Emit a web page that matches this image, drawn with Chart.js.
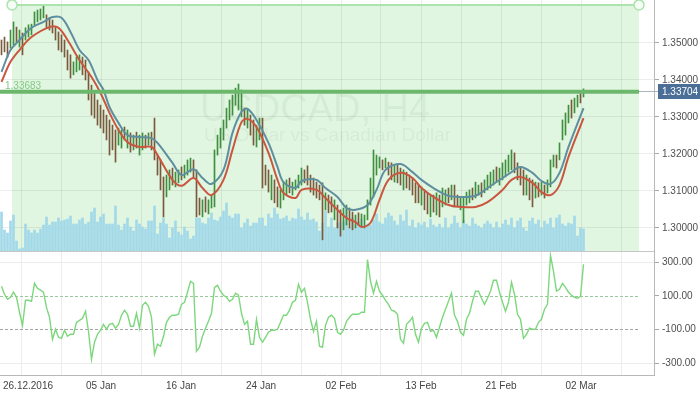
<!DOCTYPE html>
<html><head><meta charset="utf-8">
<script src="https://cdn.jsdelivr.net/npm/chart.js@4/dist/chart.umd.min.js"></script>
<style>
html,body{margin:0;padding:0;background:#fff;overflow:hidden}
#wrap{position:relative;width:700px;height:394px}
canvas{position:absolute;left:0}
#top{top:0}#bot{top:251px}
</style></head><body>
<div id="wrap"><canvas id="top" width="700" height="251"></canvas><canvas id="bot" width="700" height="143"></canvas></div>
<script>
const symbol = 'USDCAD, H4';
const symbolName = 'US Dollar vs Canadian Dollar';
const dateLabels = ['26.12.2016','05 Jan','16 Jan','24 Jan','02 Feb','13 Feb','21 Feb','02 Mar'];
const priceTicks = [1.30,1.31,1.32,1.33,1.34,1.35];
const cciTicks = [-300,-100,100,300];
const lastPrice = 1.33704;
const levelPrice = 1.33683;
const levelLabel = '1.33683';
const zoneFrom = 3.5, zoneTo = 212.5, zoneTop = 1.3603;

const highs = [
1.3508,1.3516,1.3503,1.3535,1.3557,1.3543,1.3535,1.3527,1.3541,1.3549,
1.3551,1.3584,1.3589,1.3592,1.3600,1.3576,1.3568,1.3562,1.3543,1.3530,
1.3522,1.3508,1.3481,1.3468,1.3449,1.3462,1.3468,1.3462,1.3454,1.3422,
1.3386,1.3365,1.3346,1.3332,1.3319,1.3305,1.3292,1.3278,1.3265,1.3270,
1.3265,1.3273,1.3265,1.3257,1.3251,1.3259,1.3251,1.3257,1.3251,1.3257,
1.3259,1.3297,1.3197,1.3184,1.3138,1.3143,1.3157,1.3162,1.3151,1.3157,
1.3165,1.3170,1.3184,1.3189,1.3184,1.3157,1.3081,1.3076,1.3084,1.3076,
1.3089,1.3211,1.3251,1.3270,1.3292,1.3324,1.3346,1.3359,1.3378,1.3389,
1.3373,1.3324,1.3319,1.3305,1.3292,1.3278,1.3297,1.3297,1.3170,1.3157,
1.3143,1.3130,1.3111,1.3103,1.3124,1.3130,1.3135,1.3124,1.3130,1.3143,
1.3162,1.3157,1.3168,1.3143,1.3135,1.3124,1.3116,1.3122,1.3095,1.3089,
1.3084,1.3076,1.3062,1.3049,1.3054,1.3062,1.3054,1.3043,1.3035,1.3041,
1.3038,1.3035,1.3076,1.3135,1.3211,1.3197,1.3192,1.3184,1.3189,1.3178,
1.3176,1.3170,1.3170,1.3162,1.3157,1.3151,1.3143,1.3135,1.3122,1.3116,
1.3111,1.3103,1.3095,1.3089,1.3089,1.3095,1.3089,1.3108,1.3103,1.3108,
1.3116,1.3116,1.3089,1.3084,1.3084,1.3097,1.3103,1.3108,1.3124,1.3116,
1.3122,1.3130,1.3143,1.3151,1.3157,1.3165,1.3162,1.3176,1.3184,1.3197,
1.3211,1.3203,1.3176,1.3165,1.3157,1.3143,1.3135,1.3130,1.3124,1.3122,
1.3124,1.3116,1.3130,1.3184,1.3197,1.3197,1.3230,1.3292,1.3311,1.3332,
1.3346,1.3351,1.3359,1.3368,1.3376];
const lows = [
1.3468,1.3476,1.3462,1.3486,1.3495,1.3503,1.3489,1.3468,1.3508,1.3516,
1.3522,1.3549,1.3557,1.3562,1.3568,1.3541,1.3535,1.3527,1.3508,1.3481,
1.3476,1.3462,1.3427,1.3405,1.3414,1.3422,1.3427,1.3414,1.3400,1.3346,
1.3305,1.3297,1.3278,1.3270,1.3257,1.3238,1.3197,1.3211,1.3178,1.3224,
1.3216,1.3238,1.3216,1.3205,1.3211,1.3216,1.3197,1.3211,1.3216,1.3224,
1.3211,1.3184,1.3143,1.3103,1.3030,1.3084,1.3103,1.3116,1.3111,1.3122,
1.3130,1.3135,1.3143,1.3151,1.3135,1.3030,1.3035,1.3030,1.3043,1.3038,
1.3054,1.3057,1.3197,1.3216,1.3238,1.3270,1.3292,1.3305,1.3332,1.3319,
1.3300,1.3278,1.3270,1.3251,1.3224,1.3219,1.3238,1.3108,1.3116,1.3097,
1.3076,1.3068,1.3057,1.3054,1.3076,1.3089,1.3095,1.3089,1.3103,1.3108,
1.3116,1.3122,1.3116,1.3097,1.3089,1.3081,1.3076,1.2968,1.3049,1.3041,
1.3043,1.3022,1.3000,1.2978,1.2995,1.3008,1.3000,1.2995,1.3000,1.3008,
1.3003,1.3000,1.3022,1.3062,1.3084,1.3143,1.3162,1.3157,1.3162,1.3143,
1.3130,1.3124,1.3122,1.3116,1.3103,1.3108,1.3103,1.3089,1.3068,1.3068,
1.3062,1.3049,1.3038,1.3030,1.3043,1.3035,1.3030,1.3057,1.3062,1.3068,
1.3076,1.3057,1.3057,1.3049,1.3014,1.3062,1.3068,1.3076,1.3081,1.3089,
1.3084,1.3095,1.3103,1.3108,1.3116,1.3124,1.3116,1.3130,1.3138,1.3151,
1.3157,1.3149,1.3130,1.3116,1.3089,1.3089,1.3076,1.3057,1.3081,1.3084,
1.3089,1.3081,1.3095,1.3111,1.3165,1.3162,1.3184,1.3238,1.3251,1.3284,
1.3297,1.3311,1.3327,1.3338,1.3354];
const barDir = [
0,0,0,1,1,0,1,0,1,1,1,1,1,1,1,0,0,0,0,0,0,0,0,0,1,1,1,0,0,0,
0,0,0,0,0,0,0,0,0,1,1,0,1,0,1,0,1,1,0,1,0,0,0,0,0,1,1,0,1,1,
0,1,1,1,0,0,0,1,0,1,1,1,1,1,1,1,1,1,1,1,1,0,1,0,0,1,1,0,0,0,
1,0,0,1,1,1,0,1,1,1,1,0,0,0,0,0,0,0,1,0,0,1,0,0,1,1,0,0,1,0,
1,1,1,1,1,1,1,0,1,0,0,1,0,0,1,0,0,0,0,0,1,0,0,1,0,1,0,1,1,0,
1,0,0,1,1,1,1,0,1,1,0,1,1,1,1,0,1,1,1,1,1,0,0,0,0,1,0,0,1,0,
1,0,1,1,1,0,1,1,1,1,0,1,1,0,1];
const volumes = [
1560,840,720,1200,1440,400,80,120,1080,840,
720,840,720,880,1040,1360,1040,1160,1160,1320,
1200,1240,1280,1400,1080,1080,1240,1320,1080,1160,
1560,1720,1160,1360,1480,1080,1080,1080,1800,1040,
840,1080,1320,960,800,1240,1080,960,880,1200,
1200,1800,680,1120,1320,1080,520,920,1200,760,
640,960,800,480,600,1320,1320,1120,1080,1320,
1520,1240,1200,1360,1600,1920,1400,1320,1480,1480,
920,1120,1280,1000,1120,1120,1320,1320,1000,1480,
1320,1720,1480,1280,1320,1400,1200,1320,1280,1680,
1360,1240,1520,1240,1280,1160,800,1120,1600,960,
1320,920,1120,1120,1200,1720,920,1320,1040,1160,
1280,920,1080,1040,1240,1480,1160,1080,1320,1520,
1400,1200,1040,1440,1200,1640,1000,1240,920,1120,
1040,1160,920,1280,1040,960,1080,920,1320,920,
1080,1400,1120,920,1240,1080,1000,1320,1080,1000,
920,1080,1200,1080,920,1160,920,1080,1240,1040,
1320,920,1200,1320,920,800,1200,1320,1080,1240,
920,1200,1080,1320,920,1320,1440,1080,1000,1120,
1080,1400,600,920,880];
const cci = [
156,109,79,91,121,91,2,-76,73,73,
67,174,144,133,121,31,-28,-159,-99,-147,
-153,-105,-141,-129,-129,-58,-46,-34,8,-111,
-277,-176,-129,-105,-70,-99,-70,-64,-93,-70,
-16,14,-10,-81,-81,-4,-93,43,61,37,
-28,-248,-188,-200,-141,-58,-28,-16,-16,-10,
49,61,121,186,174,-230,-206,-141,-93,-52,
-4,150,162,127,103,91,67,79,115,103,
-4,-70,-52,-188,-188,-40,-147,-176,-147,-117,
-105,-105,-99,-58,-16,-16,14,61,73,168,
121,144,61,-40,-111,-52,-200,-206,-76,-28,
-16,-34,-117,-129,-105,-52,-28,-10,-10,-10,
2,2,315,186,115,186,127,103,73,49,
14,8,-10,-159,-182,-70,-52,-28,-129,-176,
-93,-64,-58,-111,-105,-147,-87,-28,20,67,
115,-16,-52,-117,-135,-40,-4,67,127,127,
85,49,85,127,192,192,121,61,8,61,
180,109,-10,-40,-153,-129,-93,-99,-99,-58,
-40,20,49,340,245,127,138,174,150,121,
103,91,85,97,287];
const maBlueIdx = [0,3,6,10,14,17,20,23,26,29,32,34,36,39,42,46,50,52,57,60,64,67,70,74,77,80,82,85,89,92,94,98,100,105,108,112,115,118,122,125,128,133,137,140,144,149,153,158,162,167,170,173,177,180,183,186,189,194];
const maBlue = [1.3422,1.3481,1.3508,1.3541,1.3557,1.3570,1.3568,1.3530,1.3481,1.3454,1.3400,1.3373,1.3327,1.3284,1.3251,1.3246,1.3243,1.3230,1.3176,1.3143,1.3159,1.3135,1.3119,1.3157,1.3257,1.3314,1.3322,1.3292,1.3230,1.3165,1.3124,1.3108,1.3127,1.3130,1.3108,1.3084,1.3054,1.3049,1.3062,1.3103,1.3157,1.3173,1.3151,1.3130,1.3108,1.3087,1.3084,1.3087,1.3108,1.3135,1.3151,1.3165,1.3149,1.3127,1.3119,1.3149,1.3219,1.3324];
const maRedIdx = [0,3,6,10,16,19,22,26,30,33,36,39,42,46,50,52,57,60,64,67,70,74,77,80,82,85,89,92,94,98,100,105,108,112,115,118,120,123,126,129,133,137,140,144,149,153,158,162,167,170,173,177,180,183,186,189,194];
const maRed = [1.3395,1.3449,1.3481,1.3516,1.3543,1.3541,1.3508,1.3454,1.3408,1.3365,1.3311,1.3265,1.3232,1.3219,1.3219,1.3197,1.3130,1.3114,1.3135,1.3108,1.3089,1.3130,1.3211,1.3286,1.3295,1.3273,1.3203,1.3130,1.3095,1.3081,1.3103,1.3103,1.3081,1.3049,1.3027,1.3016,1.3003,1.3014,1.3076,1.3130,1.3149,1.3135,1.3108,1.3084,1.3062,1.3057,1.3057,1.3070,1.3103,1.3130,1.3138,1.3122,1.3097,1.3089,1.3116,1.3192,1.3297];

// ---- layout / style ----
const FONT = "'Liberation Sans', Arial, sans-serif";
Chart.defaults.font.family = FONT;
Chart.defaults.font.size = 10;
const AXW = 46;
const X_MIN = -0.5, X_MAX = 217.5;
const GRID_START = 6.5, GRID_STEP = 40 / 3, GRID_N = 16;
const gridVals = Array.from({length: GRID_N}, (_, k) => GRID_START + k * GRID_STEP);
const PRICE_MIN = 1.29378, PRICE_MAX = 1.36162;
const CCI_MIN = -371, CCI_MAX = 366;
const VOL_MAX = 10040;
const UP = '#3f8f3f', DOWN = '#7b5a3b';

function xScale(bottom) {
  return {
    type: 'linear', min: X_MIN, max: X_MAX, offset: false,
    afterBuildTicks: s => { s.ticks = gridVals.map(v => ({value: v})); },
    grid: {color: bottom ? '#ececec' : 'rgba(0,0,0,0.07)', drawTicks: false, offset: false},
    border: {display: bottom, color: '#b8b8b8'},
    ticks: {display: false},
    afterFit: s => { s.height = bottom ? 19 : 0; s.paddingLeft = 0; s.paddingRight = 0; }
  };
}
function yFit(s) { s.width = AXW; s.paddingTop = 0; s.paddingBottom = 0; }

const zonePlugin = {
  id: 'zone',
  beforeDraw(chart) {
    const {ctx, chartArea, scales} = chart;
    const x1 = scales.x.getPixelForValue(zoneFrom), x2 = scales.x.getPixelForValue(zoneTo);
    const yt = scales.y.getPixelForValue(zoneTop);
    ctx.save();
    ctx.fillStyle = '#e1f6e1';
    ctx.fillRect(x1, yt, x2 - x1, chartArea.bottom - yt);
    ctx.restore();
  },
  beforeDatasetsDraw(chart) {
    const {ctx} = chart;
    ctx.save();
    ctx.fillStyle = 'rgba(0,70,0,0.055)';
    ctx.textBaseline = 'alphabetic';
    ctx.font = '38px ' + FONT;
    ctx.fillText(symbol, 200, 121);
    ctx.font = '19px ' + FONT;
    ctx.fillText(symbolName, 204, 141);
    ctx.restore();
  },
  afterDatasetsDraw(chart) {
    const {ctx, chartArea, scales} = chart;
    const x1 = scales.x.getPixelForValue(zoneFrom), x2 = scales.x.getPixelForValue(zoneTo);
    const yt = scales.y.getPixelForValue(zoneTop);
    ctx.save();
    ctx.strokeStyle = '#ade4ad'; ctx.lineWidth = 2;
    ctx.beginPath(); ctx.moveTo(x1, yt); ctx.lineTo(x2, yt); ctx.stroke();
    ctx.lineWidth = 1.5; ctx.fillStyle = '#f6fdf6';
    [x1, x2].forEach(x => { ctx.beginPath(); ctx.arc(x, yt, 5, 0, Math.PI * 2); ctx.fill(); ctx.stroke(); });
    const yl = scales.y.getPixelForValue(levelPrice);
    ctx.strokeStyle = '#6cb76c'; ctx.lineWidth = 4;
    ctx.beginPath(); ctx.moveTo(chartArea.left, yl); ctx.lineTo(x2, yl); ctx.stroke();
    ctx.fillStyle = '#86c886'; ctx.font = '10px ' + FONT; ctx.textBaseline = 'alphabetic';
    ctx.fillText(levelLabel, 5, yl - 3);
    ctx.restore();
  },
  afterDraw(chart) {
    const {ctx, scales} = chart;
    const x2 = scales.x.getPixelForValue(zoneTo);
    const yp = Math.round(scales.y.getPixelForValue(lastPrice));
    ctx.save();
    ctx.strokeStyle = '#a9b4c0'; ctx.lineWidth = 1;
    ctx.beginPath(); ctx.moveTo(x2, yp + 0.5); ctx.lineTo(659, yp + 0.5); ctx.stroke();
    ctx.fillStyle = '#4b6e97';
    ctx.fillRect(658, yp - 7, 42, 15);
    ctx.fillStyle = '#ffffff'; ctx.font = '10px ' + FONT; ctx.textBaseline = 'middle';
    ctx.fillText(lastPrice.toFixed(5), 662, yp + 1);
    ctx.restore();
  }
};

new Chart(document.getElementById('top'), {
  type: 'bar',
  data: {
    datasets: [
      {type: 'line', data: maBlueIdx.map((x, k) => ({x, y: maBlue[k]})), borderColor: '#5f8f9f', borderWidth: 2, pointRadius: 0, tension: 0.35, yAxisID: 'y', order: 0},
      {type: 'line', data: maRedIdx.map((x, k) => ({x, y: maRed[k]})), borderColor: '#c9573f', borderWidth: 2, pointRadius: 0, tension: 0.35, yAxisID: 'y', order: 0},
      {type: 'bar', data: highs.map((h, i) => ({x: i, y: [lows[i], h]})), backgroundColor: barDir.map(d => d ? UP : DOWN), barThickness: 1, grouped: false, yAxisID: 'y', order: 1},
      {type: 'bar', data: volumes.map((v, i) => ({x: i, y: v})), backgroundColor: '#a2d9e8', barThickness: 2, grouped: false, yAxisID: 'vol', order: 2}
    ]
  },
  options: {
    responsive: false, animation: false, devicePixelRatio: 1,
    layout: {padding: 0},
    plugins: {legend: {display: false}, tooltip: {enabled: false}},
    scales: {
      x: xScale(false),
      y: {
        type: 'linear', position: 'right', min: PRICE_MIN, max: PRICE_MAX,
        afterBuildTicks: s => { s.ticks = priceTicks.map(v => ({value: v})); },
        ticks: {callback: v => v.toFixed(5), color: '#4f4f4f', padding: 3},
        grid: {color: 'rgba(0,0,0,0.07)', tickColor: '#a8a8a8', tickLength: 5},
        border: {color: '#b8b8b8'},
        afterFit: yFit
      },
      vol: {type: 'linear', display: false, min: 0, max: VOL_MAX}
    }
  },
  plugins: [zonePlugin]
});

const cciPlugin = {
  id: 'cciLevels',
  beforeDatasetsDraw(chart) {
    const {ctx, chartArea, scales} = chart;
    const x2 = scales.x.getPixelForValue(zoneTo);
    ctx.save();
    ctx.lineWidth = 1; ctx.setLineDash([3, 2]);
    [[100, '#9cc69c'], [-100, '#a4a4a4']].forEach(([v, c]) => {
      const y = Math.round(scales.y.getPixelForValue(v)) + 0.5;
      ctx.strokeStyle = c;
      ctx.beginPath(); ctx.moveTo(chartArea.left, y); ctx.lineTo(x2, y); ctx.stroke();
    });
    ctx.restore();
  },
  afterDraw(chart) {
    const {ctx, chartArea, scales} = chart;
    ctx.save();
    ctx.strokeStyle = '#c6c6c6'; ctx.lineWidth = 1;
    ctx.beginPath(); ctx.moveTo(0, 0.5); ctx.lineTo(chartArea.right, 0.5); ctx.stroke();
    ctx.fillStyle = '#444'; ctx.font = '10px ' + FONT;
    ctx.textAlign = 'center'; ctx.textBaseline = 'middle';
    const xs = scales.x;
    dateLabels.forEach((lab, k) => {
      const w = ctx.measureText(lab).width;
      let px = xs.getPixelForValue(gridVals[k * 2]);
      px = Math.max(px, w / 2 + 3);
      ctx.fillText(lab, px, chartArea.bottom + 11);
    });
    ctx.restore();
  }
};

new Chart(document.getElementById('bot'), {
  type: 'line',
  data: {
    datasets: [
      {data: cci.map((v, i) => ({x: i, y: v})), borderColor: '#7dd77d', borderWidth: 1.4, pointRadius: 0, tension: 0}
    ]
  },
  options: {
    responsive: false, animation: false, devicePixelRatio: 1,
    layout: {padding: 0},
    plugins: {legend: {display: false}, tooltip: {enabled: false}},
    scales: {
      x: xScale(true),
      y: {
        type: 'linear', position: 'right', min: CCI_MIN, max: CCI_MAX,
        afterBuildTicks: s => { s.ticks = cciTicks.map(v => ({value: v})); },
        ticks: {callback: v => v.toFixed(2), color: '#4f4f4f', padding: 3},
        grid: {color: c => (c.tick && Math.abs(c.tick.value) === 100 ? 'rgba(0,0,0,0)' : '#ececec'), tickColor: '#a8a8a8', tickLength: 5},
        border: {color: '#b8b8b8'},
        afterFit: yFit
      }
    }
  },
  plugins: [cciPlugin]
});
</script>
</body></html>
